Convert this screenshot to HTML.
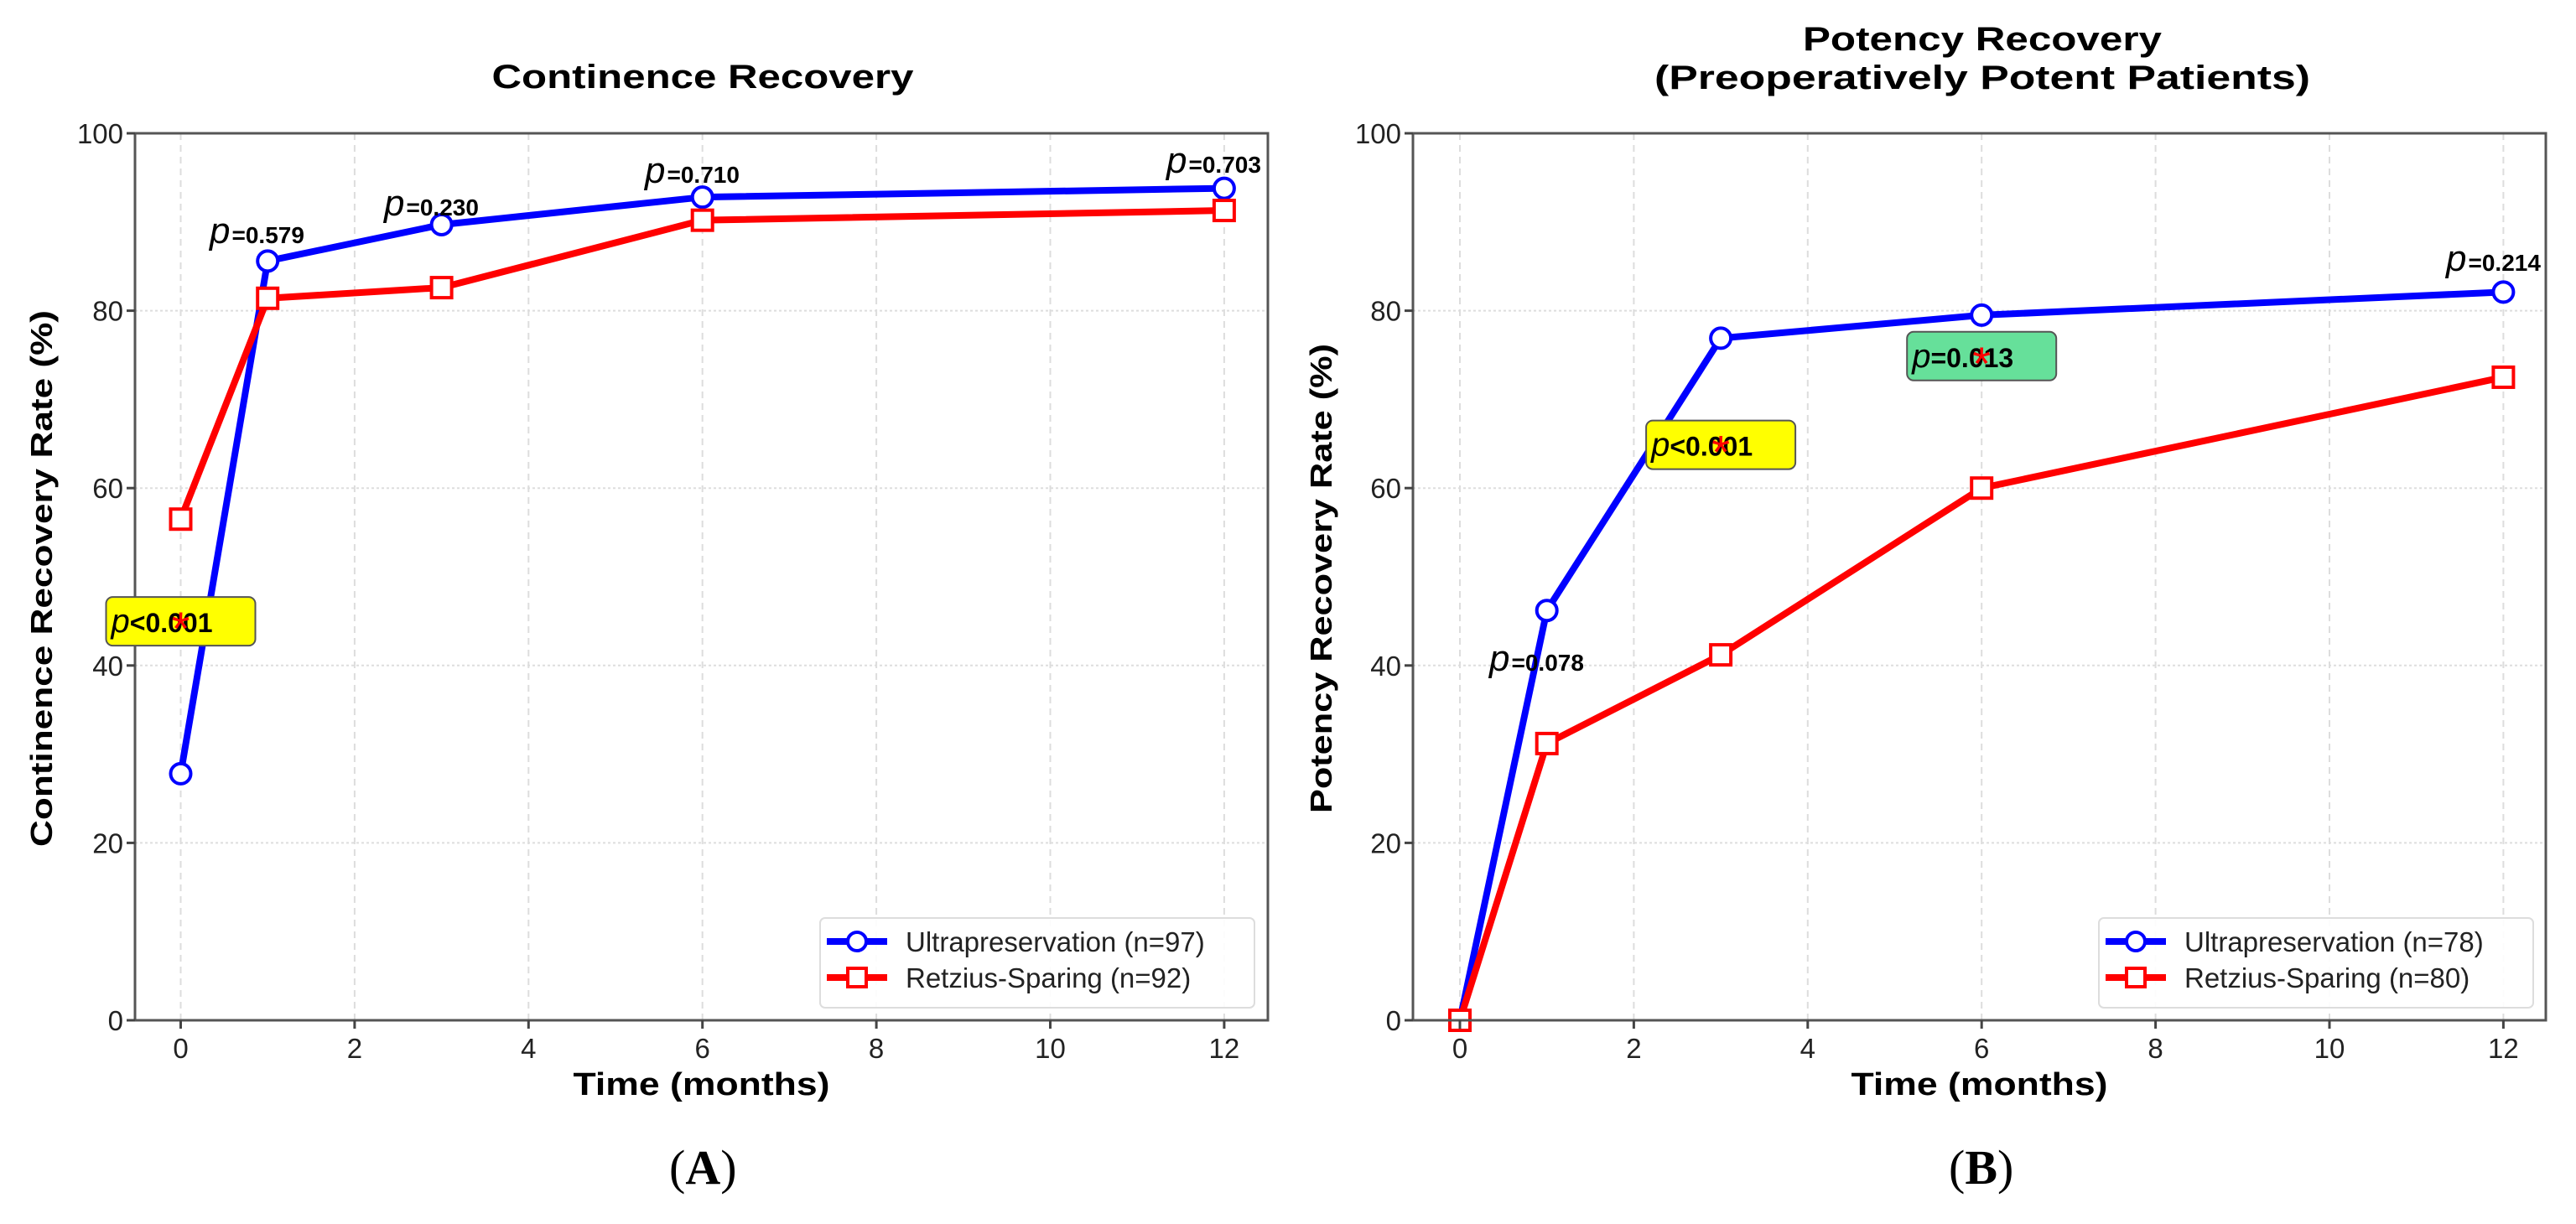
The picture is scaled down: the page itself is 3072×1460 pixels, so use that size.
<!DOCTYPE html>
<html><head><meta charset="utf-8"><style>
html,body{margin:0;padding:0;background:#fff;}
svg{display:block;font-family:"Liberation Sans","DejaVu Sans",sans-serif;}
</style></head><body>
<svg id="fig" width="3072" height="1460" viewBox="0 0 3072 1460" xmlns="http://www.w3.org/2000/svg"></svg>
<script>
const months = [0, 1, 3, 6, 12];
const contUltra = [27.8, 85.6, 89.7, 92.8, 93.8];
const contRetz = [56.5, 81.4, 82.6, 90.2, 91.3];
const potUltra = [0, 46.2, 76.9, 79.5, 82.1];
const potRetz = [0, 31.2, 41.2, 60.0, 72.5];
const xTicks = [0, 2, 4, 6, 8, 10, 12];
const yTicks = [0, 20, 40, 60, 80, 100];
const contPLabels = ["<0.001", "=0.579", "=0.230", "=0.710", "=0.703"];
const potPLabels = ["", "=0.078", "<0.001", "=0.013", "=0.214"];

const NS = "http://www.w3.org/2000/svg";
const svg = document.getElementById('fig');
function el(tag, attrs, parent, text) {
  const e = document.createElementNS(NS, tag);
  for (const k in attrs) e.setAttribute(k, attrs[k]);
  if (text !== undefined) e.textContent = text;
  (parent || svg).appendChild(e);
  return e;
}

function panel(cfg) {
  const g = el('g', {});
  
  
  const L = cfg.left, R = cfg.right, T = 159, B = 1217;
  const x0 = cfg.x0, ppm = 103.7;
  const xs = v => x0 + v * ppm;
  const ys = v => B - v * (B - T) / 100;

  xTicks.forEach(t => {
    const gl = el('line', {x1: xs(t), x2: xs(t), y1: T, y2: B, stroke: '#ddd', 'stroke-width': 2, 'stroke-dasharray': '8,6'}, g);
    
    
  });
  yTicks.forEach(t => {
    const gl = el('line', {x1: L, x2: R, y1: ys(t), y2: ys(t), stroke: '#ddd', 'stroke-width': 2, 'stroke-dasharray': '3,3'}, g);
    
    
  });

  function series(vals, color, marker, nm) {
    const pts = months.map((m, i) => xs(m) + ',' + ys(vals[i])).join(' ');
    const pl = el('polyline', {points: pts, fill: 'none', stroke: color, 'stroke-width': 8, 'stroke-linejoin': 'round'}, g);
    
    
    months.forEach((m, i) => {
      let mk;
      if (marker === 'o') mk = el('circle', {cx: xs(m), cy: ys(vals[i]), r: 12, fill: '#fff', stroke: color, 'stroke-width': 4}, g);
      else mk = el('rect', {x: xs(m) - 12, y: ys(vals[i]) - 12, width: 24, height: 24, fill: '#fff', stroke: color, 'stroke-width': 4}, g);
      
      
    });
  }
  series(cfg.ultra, '#0000ff', 'o', 'ultrapreservation');
  series(cfg.retz, '#ff0000', 's', 'retzius-sparing');

  const sp = el('rect', {x: L, y: T, width: R - L, height: B - T, fill: 'none', stroke: '#555', 'stroke-width': 3}, g);
  
  

  xTicks.forEach(t => {
    el('line', {x1: xs(t), x2: xs(t), y1: B, y2: B + 10, stroke: '#444', 'stroke-width': 3}, g);
    const tl = el('text', {x: xs(t), y: B + 45, 'text-anchor': 'middle', 'font-size': 33, fill: '#222'}, g, String(t));
    
    
  });
  yTicks.forEach(t => {
    el('line', {x1: L - 10, x2: L, y1: ys(t), y2: ys(t), stroke: '#444', 'stroke-width': 3}, g);
    const tl = el('text', {x: L - 14, y: ys(t) + 12, 'text-anchor': 'end', 'font-size': 33, fill: '#222'}, g, String(t));
    
    
  });

  const xl = el('text', {x: (L + R) / 2, y: 1306, 'text-anchor': 'middle', 'font-size': 38, 'font-weight': 'bold', textLength: 306, lengthAdjust: 'spacingAndGlyphs'}, g, 'Time (months)');
  
  
  const yl = el('text', {x: 0, y: 0, 'text-anchor': 'middle', 'font-size': 36, 'font-weight': 'bold', textLength: cfg.ylen, lengthAdjust: 'spacingAndGlyphs', transform: 'translate(' + cfg.ylx + ',' + cfg.yly + ') rotate(-90)'}, g, cfg.ylabel);
  
  
  cfg.titles.forEach((tt, i) => {
    const t = el('text', {x: cfg.tcx, y: tt[1], 'text-anchor': 'middle', 'font-size': 40, 'font-weight': 'bold', textLength: tt[2], lengthAdjust: 'spacingAndGlyphs'}, g, tt[0]);
    
    
  });
  const pl = el('text', {x: cfg.tcx - 40, y: 1412, 'font-size': 58, 'font-family': '"Liberation Serif", serif'}, g);
  
  
  el('tspan', {}, pl, '(');
  el('tspan', {'font-weight': 'bold'}, pl, cfg.letter);
  el('tspan', {}, pl, ')');

  cfg.anns.forEach(a => {
    const ag = el('g', {}, g);
    
    
    const label = cfg.plabels[a.i];
    if (a.box) {
      const w = 178, h = 58;
      const bx = xs(months[a.i]) - w / 2 + (a.dx || 0), by = ys(a.sv) - h / 2 - 4;
      el('rect', {x: bx, y: by, width: w, height: h, rx: 8, fill: a.box, stroke: '#555', 'stroke-width': 2}, ag);
      const t = el('text', {x: bx + 6, y: by + 42, 'font-size': 32, 'font-weight': 'bold'}, ag);
      el('tspan', {'font-style': 'italic', 'font-weight': 'normal', 'font-size': 40}, t, 'p');
      el('tspan', {}, t, label);
      el('text', {x: xs(months[a.i]), y: ys(a.sv) + 24, 'text-anchor': 'middle', 'font-size': 56, fill: '#ff0000'}, ag, '*');
    } else {
      const t = el('text', {x: a.x, y: a.y, 'font-size': 28, 'font-weight': 'bold'}, ag);
      el('tspan', {'font-style': 'italic', 'font-weight': 'normal', 'font-size': 44}, t, 'p');
      el('tspan', {dx: 2}, t, label);
    }
  });

  const lg = el('g', {}, g);
  
  
  const lx = cfg.legX;
  el('rect', {x: lx, y: 1095, width: 518, height: 107, rx: 6, fill: '#fff', 'fill-opacity': 0.9, stroke: '#ddd', 'stroke-width': 2}, lg);
  [[cfg.leg[0], '#0000ff', 'o', 1123], [cfg.leg[1], '#ff0000', 's', 1166]].forEach(e => {
    const eg = el('g', {}, lg);
    
    
    el('line', {x1: lx + 8, x2: lx + 80, y1: e[3], y2: e[3], stroke: e[1], 'stroke-width': 8}, eg);
    if (e[2] === 'o') el('circle', {cx: lx + 44, cy: e[3], r: 11, fill: '#fff', stroke: e[1], 'stroke-width': 4}, eg);
    else el('rect', {x: lx + 33, y: e[3] - 11, width: 22, height: 22, fill: '#fff', stroke: e[1], 'stroke-width': 4}, eg);
    el('text', {x: lx + 102, y: e[3] + 12, 'font-size': 33, fill: '#222'}, eg, e[0]);
  });
}

panel({name: 'continence-panel', left: 161, right: 1512, x0: 215.5, ultra: contUltra, retz: contRetz,
  ylabel: 'Continence Recovery Rate (%)', ylen: 640, ylx: 62, yly: 690,
  titles: [['Continence Recovery', 105, 503]], tcx: 838, letter: 'A', legX: 978,
  leg: ['Ultrapreservation (n=97)', 'Retzius-Sparing (n=92)'], plabels: contPLabels,
  anns: [{i: 0, box: '#ffff00', sv: 44.6, dx: 0},
         {i: 1, x: 250, y: 290}, {i: 2, x: 458, y: 257}, {i: 3, x: 769, y: 218}, {i: 4, x: 1391, y: 206}]});

panel({name: 'potency-panel', left: 1685, right: 3036, x0: 1741, ultra: potUltra, retz: potRetz,
  ylabel: 'Potency Recovery Rate (%)', ylen: 560, ylx: 1588, yly: 690,
  titles: [['Potency Recovery', 60, 428], ['(Preoperatively Potent Patients)', 106, 782]], tcx: 2364, letter: 'B', legX: 2503,
  leg: ['Ultrapreservation (n=78)', 'Retzius-Sparing (n=80)'], plabels: potPLabels,
  anns: [{i: 1, x: 1776, y: 800}, {i: 2, box: '#ffff00', sv: 64.5, dx: 0}, {i: 3, box: '#66e09a', sv: 74.5, dx: 0},
         {i: 4, x: 2917, y: 323}]});
</script>
</body></html>
